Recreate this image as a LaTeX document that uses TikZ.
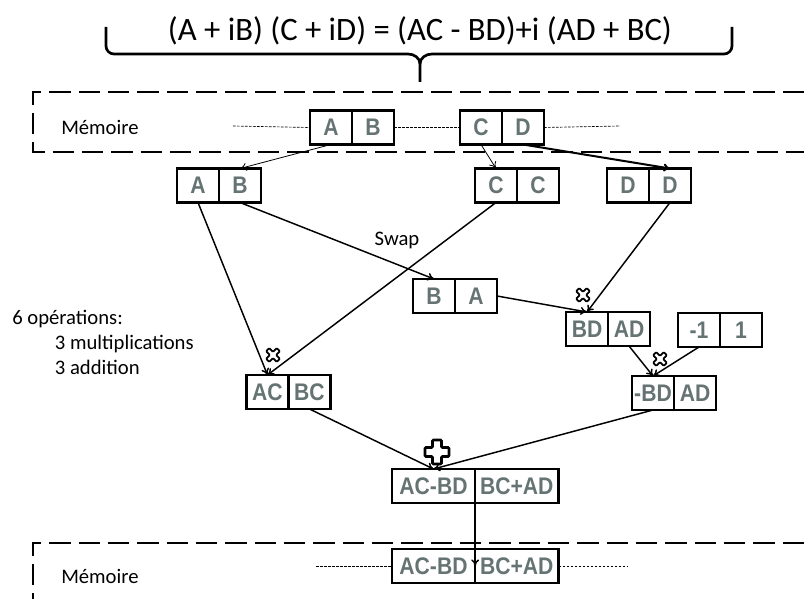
\documentclass[tikz,border=0pt]{standalone}
\usepackage{fontspec}
\setmainfont{Carlito}
\newfontfamily\cellfont[FakeStretch=0.88]{Liberation Sans}
\usetikzlibrary{arrows.meta, positioning, calc}
\definecolor{cellgray}{RGB}{102,115,115}
\tikzset{
    cell/.style={
        rectangle,
        draw=black,
        line width=1.6pt,
        outer sep=0pt,
        inner sep=0pt,
        minimum width=31.5pt,
        minimum height=25.5pt,
        font=\cellfont\bfseries\fontsize{18}{18}\selectfont,
        text=cellgray
    },
    widecell/.style={
        cell,
        minimum width=62.5pt
    },
    arrow/.style={
        -{To[length=5pt, width=6pt]},
        line width=1.1pt
    },
    lbl/.style={font=\fontsize{15.5}{18.75}\selectfont, inner sep=0pt},
    memframe/.style={line width=2.2pt, dash pattern=on 16pt off 6pt},
    memline/.style={line width=0.5pt, dash pattern=on 2pt off 1pt},
    mulmark/.pic={
        \draw[fill=white, line width=1.3pt, rounded corners=0.6pt, rotate=45]
            (-2.2,-7.5) -- (2.2,-7.5) -- (2.2,-2.2) -- (7.5,-2.2) -- (7.5,2.2) -- (2.2,2.2)
            -- (2.2,7.5) -- (-2.2,7.5) -- (-2.2,2.2) -- (-7.5,2.2) -- (-7.5,-2.2) -- (-2.2,-2.2) -- cycle;
    },
    addmark/.pic={
        \draw[fill=white, line width=2pt, rounded corners=0.8pt]
            (-4.5,-12) -- (4.5,-12) -- (4.5,-4.5) -- (12,-4.5) -- (12,4.5) -- (4.5,4.5)
            -- (4.5,12) -- (-4.5,12) -- (-4.5,4.5) -- (-12,4.5) -- (-12,-4.5) -- (-4.5,-4.5) -- cycle;
    }
}

\begin{document}
\begin{tikzpicture}[x=0.75pt, y=-0.75pt]
\useasboundingbox (0,0) rectangle (804,599);

% equation and brace
\node[font=\fontsize{24.5}{28}\selectfont, inner sep=0pt] (eq) at (420,31) {(A + iB) (C + iD) = (AC - BD)+i (AD + BC)};
\draw[line width=2pt] (106,27) -- (106,46) to[out=-90,in=180] (114,54) -- (408,54) to[out=0,in=90] (420,64) -- (420,82);
\draw[line width=2pt] (732,27) -- (732,46) to[out=-90,in=0] (724,54) -- (432,54) to[out=180,in=90] (420,64);

% memory frames
\draw[memframe] (804,92) -- (33,92) -- (33,152) -- (804,152);
\draw[memframe] (804,543) -- (33,543) -- (33,610);
\node[lbl, anchor=west] (memtop) at (61,127) {Mémoire};
\node[lbl, anchor=west] (membot) at (61,576) {Mémoire};

% memory cells
\node[cell] (mA) at (331,127.5) {A};
\node[cell, right=0pt of mA] (mB) {B};
\node[cell] (mC) at (481,127.5) {C};
\node[cell, right=0pt of mC] (mD) {D};
\coordinate (memL) at (233,126);
\coordinate (memR) at (620,126);
\draw[memline] (memL) -- (mA.west);
\draw[memline] (mB.east) -- (mC.west);
\draw[memline] (mD.east) -- (memR);

% loaded values
\node[cell] (rA) at (198,185.5) {A};
\node[cell, right=0pt of rA] (rB) {B};
\node[cell] (cL) at (496,185.5) {C};
\node[cell, right=0pt of cL] (cR) {C};
\node[cell] (dL) at (628,185.5) {D};
\node[cell, right=0pt of dL] (dR) {D};

% swap and products
\node[cell] (swB) at (434,296) {B};
\node[cell, right=0pt of swB] (swA) {A};
\node[lbl] (swaplbl) at (397,240) {Swap};
\node[cell] (bd) at (587,329) {BD};
\node[cell, right=0pt of bd] (ad) {AD};
\node[cell] (neg) at (699,330) {-1};
\node[cell, right=0pt of neg] (one) {1};
\node[cell] (ac) at (267.5,392) {AC};
\node[cell, right=0pt of ac] (bc) {BC};
\node[cell] (nbd) at (653,393) {-BD};
\node[cell, right=0pt of nbd] (nad) {AD};

% result
\node[widecell] (re) at (433.5,486) {AC-BD};
\node[widecell, right=0pt of re] (im) {BC+AD};
\node[widecell] (outRe) at (433.5,566) {AC-BD};
\node[widecell, right=0pt of outRe] (outIm) {BC+AD};
\coordinate (outL) at (316,566);
\coordinate (outR) at (628,566);
\draw[memline] (outL) -- (outRe.west);
\draw[memline] (outIm.east) -- (outR);

\node[lbl, align=left, anchor=north west] (ops) at (12,310) {6 opérations:\\\hspace*{32pt}3 multiplications\\\hspace*{32pt}3 addition};

% data flow
\draw[arrow, line width=0.6pt] (mA.south) -- (rB.north);
\draw[arrow, line width=0.6pt] (mC.south) -- (cL.north);
\draw[arrow, line width=1.5pt] (mD.south) -- (dR.north);
\draw[arrow] (rA.south) -- (ac.north);
\draw[arrow] (rB.south) -- (swB.north);
\draw[arrow] (cL.south) -- (ac.north);
\draw[arrow] (dR.south) -- (bd.north);
\draw[arrow] (swA.east) -- (bd.north);
\draw[arrow] (ad.south) -- (nbd.north);
\draw[arrow] (neg.south) -- (nbd.north);
\draw[arrow] (bc.south) -- (re.north);
\draw[arrow] (nbd.south) -- (re.north);
\draw[arrow] (re.south east) -- (outRe.east);

% operators
\pic at (273,355) {mulmark};
\pic at (583,295) {mulmark};
\pic at (660,359) {mulmark};
\pic at (437,452) {addmark};

\end{tikzpicture}
\end{document}
